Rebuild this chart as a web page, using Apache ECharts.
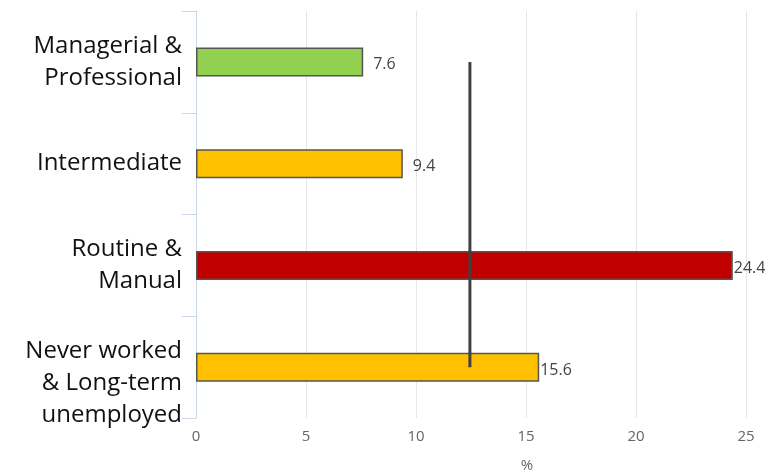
<!DOCTYPE html>
<html>
<head>
<meta charset="utf-8">
<script src="https://cdn.jsdelivr.net/npm/echarts@6/dist/echarts.min.js"></script>
<style>
  html, body { margin: 0; padding: 0; background: #fff; }
  #chart { width: 771px; height: 475px; }
</style>
</head>
<body>
<div id="chart"></div>
<script>
// Occupational groups, top to bottom
const categories = [
  'Managerial &\nProfessional',
  'Intermediate',
  'Routine &\nManual',
  'Never worked\n& Long-term\nunemployed'
];
// Percentage for each group
const values = [7.6, 9.4, 24.4, 15.6];
const barColors = ['#92D050', '#FFC000', '#C00000', '#FFC000'];
// Overall reference level drawn as a vertical line across the groups
const referenceValue = 12.45;
const xTicks = [0, 5, 10, 15, 20, 25];

const labelGap = [10, 10, 1, 1];

const chart = echarts.init(document.getElementById('chart'));
chart.setOption({
  animation: false,
  grid: { left: 196, right: 25, top: 11, bottom: 57, containLabel: false, outerBoundsMode: 'none' },
  xAxis: {
    type: 'value',
    min: xTicks[0],
    max: xTicks[xTicks.length - 1],
    interval: 5,
    name: '%',
    nameLocation: 'middle',
    nameGap: 40,
    nameTextStyle: { color: '#666', fontSize: 15, fontFamily: 'Open Sans', padding: [0, 0, 0, 112] },
    axisLine: { show: false },
    axisTick: { show: false },
    axisLabel: { color: '#666', fontSize: 15, fontFamily: 'Open Sans', margin: 11 },
    splitLine: { show: true, lineStyle: { color: '#e6e6e6', width: 1 } }
  },
  yAxis: {
    type: 'category',
    data: categories,
    inverse: true,
    axisLine: { show: true, lineStyle: { color: '#ccd6eb', width: 1 } },
    axisTick: { show: true, length: 14, lineStyle: { color: '#ccd6eb' } },
    axisLabel: {
      color: '#111',
      fontSize: 24,
      fontFamily: 'Open Sans',
      lineHeight: 32,
      margin: 14,
      align: 'right',
      formatter: (v) => (v.split('\n').length > 2 ? '\n' + v : v)
    },
    splitLine: { show: false }
  },
  series: [
    {
      type: 'bar',
      barWidth: 29,
      z: 2,
      data: values.map((v, i) => ({
        value: v,
        itemStyle: { color: barColors[i], borderColor: '#555', borderWidth: 1.5 },
        label: { distance: labelGap[i] }
      })),
      label: {
        show: true,
        position: 'right',
        color: '#444',
        fontSize: 16,
        fontFamily: 'Open Sans',
        offset: [0, 3]
      }
    },
    {
      type: 'line',
      z: 5,
      symbol: 'none',
      silent: true,
      lineStyle: { color: '#404040', width: 3 },
      data: [
        [referenceValue, categories[0]],
        [referenceValue, categories[categories.length - 1]]
      ]
    }
  ]
});
</script>
</body>
</html>
